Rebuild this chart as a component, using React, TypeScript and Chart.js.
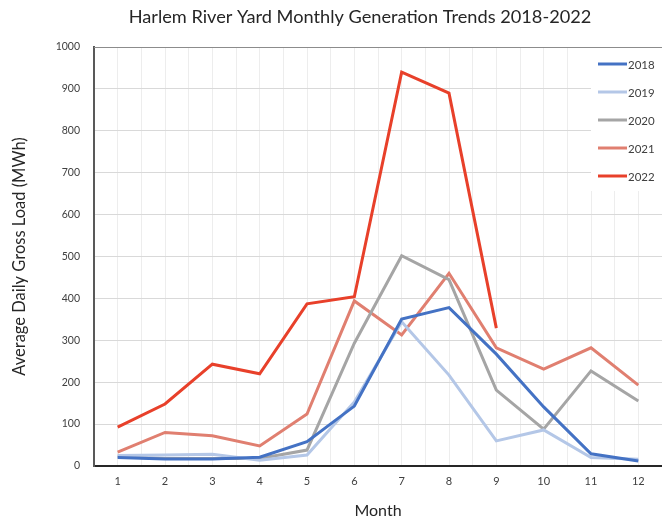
import { useEffect, useRef } from 'react';
import { Chart, registerables } from 'chart.js';
Chart.register(...registerables);

const months = ['1', '2', '3', '4', '5', '6', '7', '8', '9', '10', '11', '12'];
const y2018 = [20, 17, 17, 21, 58, 143, 351, 378, 267, 141, 29, 12];
const y2019 = [25, 26, 28, 14, 26, 153, 344, 217, 60, 86, 20, 16];
const y2020 = [22, 18, 18, 18, 38, 293, 502, 445, 181, 88, 227, 155];
const y2021 = [33, 80, 72, 48, 124, 394, 313, 460, 282, 231, 282, 193];
const y2022 = [93, 148, 243, 220, 387, 404, 940, 890, 329, null, null, null];
const seriesNames = ['2018', '2019', '2020', '2021', '2022'];
const seriesColors = ['#4472C4', '#B4C7E7', '#A5A5A5', '#E07F70', '#E8402A'];
const titleText = 'Harlem River Yard Monthly Generation Trends 2018-2022';
const FONT = 'Lato';

const overlay = {
  id: 'overlay',
  beforeDatasetsDraw(chart: any) {
    const { ctx, chartArea } = chart;
    ctx.save();
    ctx.fillStyle = '#ffffff';
    ctx.fillRect(591, chartArea.top + 1, chartArea.right - 591, 143);
    ctx.restore();
  },
  afterDraw(chart: any) {
    const { ctx, chartArea } = chart;
    ctx.save();
    // title
    ctx.fillStyle = '#262626';
    ctx.font = `18.2px ${FONT}`;
    ctx.textAlign = 'center';
    ctx.textBaseline = 'middle';
    ctx.fillText(titleText, 360, 17);
    // top border
    ctx.strokeStyle = '#8c8c8c';
    ctx.lineWidth = 1;
    ctx.beginPath();
    ctx.moveTo(chartArea.left, chartArea.top + 0.5);
    ctx.lineTo(chartArea.right, chartArea.top + 0.5);
    ctx.stroke();
    // legend
    ctx.font = `11.5px ${FONT}`;
    ctx.textAlign = 'left';
    seriesNames.forEach((n, i) => {
      const y = 64 + i * 28;
      ctx.strokeStyle = seriesColors[i];
      ctx.lineWidth = 3;
      ctx.beginPath();
      ctx.moveTo(598, y);
      ctx.lineTo(627, y);
      ctx.stroke();
      ctx.fillStyle = '#404040';
      ctx.fillText(n, 628, y + 1);
    });
    ctx.restore();
  },
};

export default function App() {
  const ref = useRef<HTMLCanvasElement>(null);
  useEffect(() => {
    document.body.style.margin = '0';
    const all = [y2018, y2019, y2020, y2021, y2022];
    const chart = new Chart(ref.current!, {
      type: 'line',
      data: {
        labels: months,
        datasets: seriesNames.map((n, i) => ({
          label: n,
          data: all[i],
          borderColor: seriesColors[i],
          backgroundColor: seriesColors[i],
          borderWidth: 3,
          pointRadius: 0,
          tension: 0,
          spanGaps: false,
        })),
      },
      options: {
        animation: false,
        responsive: false,
        devicePixelRatio: 1,
        layout: { padding: { top: 47, left: 0, right: 0, bottom: 0 } },
        plugins: { legend: { display: false }, title: { display: false }, tooltip: { enabled: false } },
        scales: {
          x: {
            type: 'category',
            offset: true,
            grid: { color: '#ededed', offset: true, drawTicks: false },
            border: { color: '#262626', width: 2 },
            ticks: { font: { family: FONT, size: 11 }, color: '#404040', padding: 9 },
            title: { display: true, text: 'Month', font: { family: FONT, size: 16 }, color: '#262626', padding: { top: 0, bottom: 0 } },
            afterFit: (s: any) => { s.height = 54; },
          },
          x2: {
            type: 'category',
            labels: months,
            position: 'bottom',
            offset: true,
            grid: { color: '#ededed', offset: false, drawTicks: false },
            border: { display: false },
            ticks: { display: false },
            afterFit: (s: any) => { s.height = 0; },
          },
          y: {
            min: 0,
            max: 1000,
            ticks: {
              stepSize: 100,
              font: { family: FONT, size: 10.5 },
              color: '#404040',
              padding: 14,
              callback: (v: any) => String(v),
            },
            grid: { color: '#d9d9d9', drawTicks: false },
            border: { color: '#595959', width: 2 },
            title: { display: true, text: 'Average Daily Gross Load (MWh)', font: { family: FONT, size: 16.5 }, color: '#262626', padding: { top: 10, bottom: 0 } },
            afterFit: (s: any) => { s.width = 94; },
          },
        },
      } as any,
      plugins: [overlay],
    });
    return () => chart.destroy();
  }, []);
  return (
    <div style={{ width: 662, height: 520 }}>
      <canvas ref={ref} width={662} height={520} />
    </div>
  );
}
